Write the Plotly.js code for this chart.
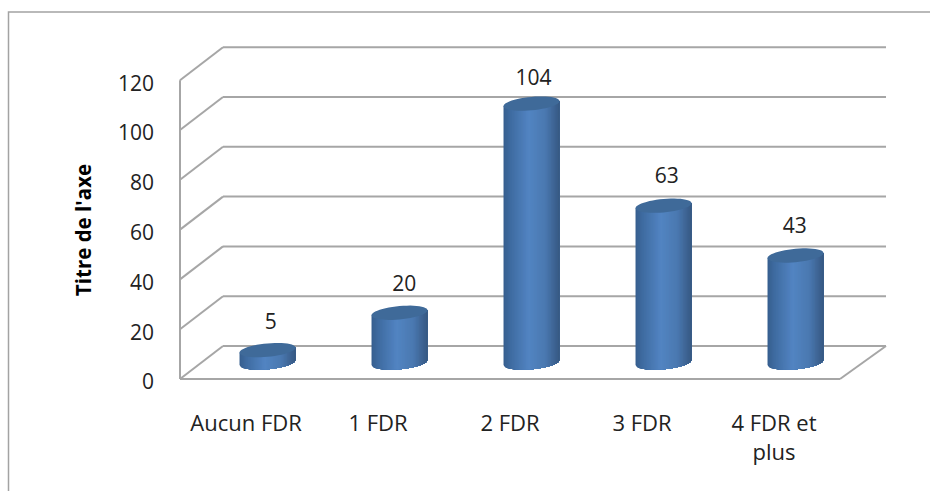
<!DOCTYPE html>
<html>
<head>
<meta charset="utf-8">
<script src="https://cdn.plot.ly/plotly-3.0.1.min.js"></script>
<style>html,body{margin:0;padding:0;background:#fff}</style>
</head>
<body>
<div id="chart" style="width:930px;height:491px"></div>
<script>
const categories = ["Aucun FDR", "1 FDR", "2 FDR", "3 FDR", "4 FDR et<br>plus"];
const values = [5, 20, 104, 63, 43];
const yTicks = [0, 20, 40, 60, 80, 100, 120];
const labelLift = [10.4, 11.0, 9.6, 11.2, 11.0];
const labelNudge = [0.025, 0.035, 0.015, 0.025, -0.005];

// Depth of the pseudo-3D box, in axis units
const depthX = 43 / 132, depthY = 33 / 2.49, backExtra = 3 / 132;
const barShiftX = 0.163, barBaseY = 6.6;
const radiusX = 0.2121, radiusY = 2.7, tiltY = 1.0;
const catCount = categories.length;
const gridColor = "#a6a6a6";
const stops = [[0, [54, 94, 142]], [0.12, [62, 107, 160]], [0.45, [82, 132, 194]], [0.75, [74, 120, 176]], [1, [54, 88, 130]]];

function shade(t) {
  for (let i = 1; i < stops.length; i++) {
    if (t <= stops[i][0]) {
      const f = (t - stops[i - 1][0]) / (stops[i][0] - stops[i - 1][0]);
      const c = stops[i - 1][1].map((a, k) => Math.round(a + (stops[i][1][k] - a) * f));
      return `rgb(${c.join(",")})`;
    }
  }
  return "rgb(54,88,130)";
}

const edge = u => radiusY * Math.sqrt(Math.max(0, 1 - u * u));
const traces = [];

// Cylinder bodies: each layer covers from its left edge to the right side,
// so the later layers paint over the earlier ones with no seams.
const strips = 40;
for (let s = 0; s < strips; s++) {
  const u0 = -1 + 2 * s / strips;
  const xs = [], ys = [];
  values.forEach((v, i) => {
    const cx = i + 0.5 + barShiftX;
    for (let k = s; k <= strips; k++) {
      const u = -1 + 2 * k / strips;
      xs.push(cx + radiusX * u);
      ys.push(barBaseY + tiltY * u - edge(u));
    }
    xs.push(cx + radiusX, cx + radiusX * u0, cx + radiusX * u0, null);
    ys.push(barBaseY + v + tiltY, barBaseY + v + tiltY * u0, barBaseY + tiltY * u0 - edge(u0), null);
  });
  traces.push({type: "scatter", mode: "none", x: xs, y: ys, fill: "toself",
    fillcolor: shade((s + 0.5) / strips), hoverinfo: "skip", showlegend: false});
}

// Cylinder top caps
const capX = [], capY = [];
values.forEach((v, i) => {
  const cx = i + 0.5 + barShiftX;
  for (let a = 0; a <= 48; a++) {
    const t = a / 48 * 2 * Math.PI;
    capX.push(cx + radiusX * Math.cos(t));
    capY.push(barBaseY + v + tiltY * Math.cos(t) + radiusY * Math.sin(t));
  }
  capX.push(null); capY.push(null);
});
traces.push({type: "scatter", mode: "none", x: capX, y: capY, fill: "toself", fillcolor: "#3f6a99",
  hoverinfo: "skip", showlegend: false});

// Data labels
traces.push({type: "scatter", mode: "text",
  x: values.map((v, i) => i + 0.5 + barShiftX + labelNudge[i]),
  y: values.map((v, i) => barBaseY + v + labelLift[i]),
  text: values.map(String), textposition: "middle center",
  textfont: {family: "Open Sans", size: 21, color: "#222"}, hoverinfo: "skip", showlegend: false});

// Box grid: floor, side wall and back wall, built from the tick values
const shapes = [];
const seg = (x0, y0, x1, y1) => shapes.push({type: "line", layer: "below", xref: "x", yref: "y", x0, y0, x1, y1,
  line: {color: gridColor, width: 2}});
yTicks.forEach(v => {
  seg(0, v, depthX, v + depthY);
  seg(depthX, v + depthY, catCount + depthX + backExtra, v + depthY);
});
seg(0, 0, 0, yTicks[yTicks.length - 1]);
seg(0, 0, catCount, 0);
seg(catCount, 0, catCount + depthX + backExtra, depthY);

// Outer chart frame, running off the right and bottom of the picture
const plotL = 172, plotR = 895, plotT = 46, plotB = 414;
const px = p => (p - plotL) / (plotR - plotL), py = p => (plotB - p) / (plotB - plotT);
shapes.push({type: "path", layer: "below", xref: "paper", yref: "paper",
  path: `M ${px(8.5)} ${py(500)} L ${px(8.5)} ${py(12)} L ${px(940)} ${py(12)}`,
  line: {color: "#a3a3a3", width: 1.5}});

const layout = {
  width: 930, height: 491,
  margin: {l: plotL, r: 930 - plotR, t: plotT, b: 491 - plotB},
  paper_bgcolor: "#fff", plot_bgcolor: "rgba(0,0,0,0)",
  showlegend: false,
  shapes,
  font: {family: "Open Sans", size: 21, color: "#222"},
  xaxis: {
    range: [-8 / 132, 715 / 132], showgrid: false, zeroline: false, showline: false,
    tickmode: "array", tickvals: categories.map((c, i) => i + 0.5), ticktext: categories,
    tickfont: {family: "Open Sans", size: 22, color: "#222"},
    ticks: "", ticklabelstandoff: -6, tickangle: 0, fixedrange: true
  },
  yaxis: {
    range: [-35 / 2.49, 333 / 2.49], showgrid: false, zeroline: false, showline: false,
    tickmode: "array", tickvals: yTicks, ticktext: yTicks.map(String), ticks: "",
    ticklabelstandoff: 17, ticklabelshift: 3, fixedrange: true,
    title: {text: "<b>Titre de l'axe</b>", standoff: 20, font: {family: "Open Sans", size: 20.5, color: "#000"}}
  }
};
Plotly.newPlot("chart", traces, layout, {displayModeBar: false, staticPlot: true});
</script>
</body>
</html>
